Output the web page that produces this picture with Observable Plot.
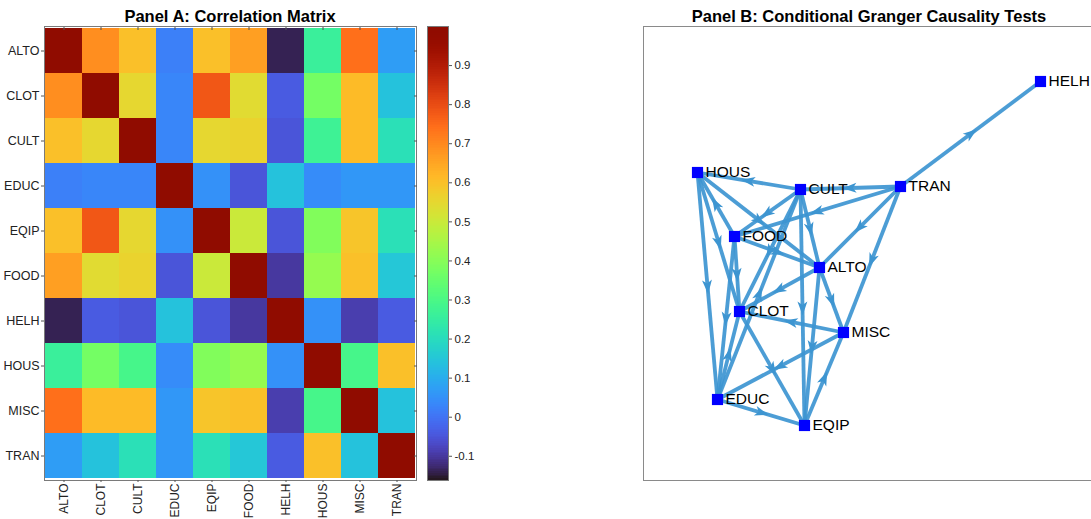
<!DOCTYPE html>
<html><head><meta charset="utf-8">
<script src="https://cdn.jsdelivr.net/npm/d3@7"></script>
<script src="https://cdn.jsdelivr.net/npm/@observablehq/plot@0.6"></script>
<style>
html,body{margin:0;padding:0;background:#fff;overflow:hidden;}
#wrap{position:relative;width:1091px;height:519px;overflow:hidden;font-family:"Liberation Sans",Arial,Helvetica,sans-serif;}
.title{position:absolute;top:8px;font-weight:bold;font-size:16.5px;line-height:16.5px;white-space:nowrap;transform:translateX(-50%);color:#000;}
#wrap svg{position:absolute;top:0;overflow:visible;}
</style></head><body><div id="wrap"></div>
<script>
// ---- Panel A data ----
const sectors = ["ALTO","CLOT","CULT","EDUC","EQIP","FOOD","HELH","HOUS","MISC","TRAN"];
const rowALTO = [1, 0.69, 0.60, 0.02, 0.60, 0.66, -0.14, 0.26, 0.74, 0.07];
const rowCLOT = [0.69, 1, 0.55, 0.03, 0.78, 0.54, -0.04, 0.37, 0.61, 0.14];
const rowCULT = [0.60, 0.55, 1, 0.03, 0.55, 0.56, -0.05, 0.27, 0.61, 0.21];
const rowEDUC = [0.02, 0.03, 0.03, 1, 0.05, -0.05, 0.14, 0.04, 0.06, 0.06];
const rowEQIP = [0.60, 0.78, 0.55, 0.05, 1, 0.50, -0.05, 0.39, 0.59, 0.21];
const rowFOOD = [0.66, 0.54, 0.56, -0.05, 0.50, 1, -0.10, 0.42, 0.60, 0.15];
const rowHELH = [-0.14, -0.04, -0.05, 0.14, -0.05, -0.10, 1, 0.05, -0.09, -0.04];
const rowHOUS = [0.26, 0.37, 0.29, 0.04, 0.39, 0.42, 0.05, 1, 0.29, 0.60];
const rowMISC = [0.74, 0.61, 0.61, 0.06, 0.59, 0.60, -0.09, 0.29, 1, 0.14];
const rowTRAN = [0.07, 0.14, 0.21, 0.06, 0.21, 0.15, -0.04, 0.60, 0.14, 1];
const colorbarTicks = [-0.1, 0, 0.1, 0.2, 0.3, 0.4, 0.5, 0.6, 0.7, 0.8, 0.9];
const colorDomain = [-0.162, 1];

// ---- Panel B data ----
const nodeNames = ["HELH","HOUS","CULT","TRAN","FOOD","ALTO","CLOT","MISC","EDUC","EQIP"];
const nodeX = [397, 54, 157, 257, 91, 176, 96, 200, 74, 161];
const nodeY = [399, 308, 291, 294, 244, 213, 169, 148, 81, 55];
const edgeFrom = ["TRAN","CULT","TRAN","TRAN","TRAN","TRAN","HOUS","HOUS","FOOD","HOUS","CULT","CULT","CULT","FOOD","FOOD","FOOD","ALTO","ALTO","ALTO","CULT","MISC","MISC","EQIP","CLOT","EDUC","EDUC","EDUC"];
const edgeTo   = ["HELH","HOUS","CULT","FOOD","ALTO","MISC","ALTO","CLOT","HOUS","EDUC","FOOD","ALTO","CLOT","ALTO","CLOT","EDUC","CLOT","MISC","EQIP","EQIP","CLOT","EDUC","MISC","EQIP","EQIP","CLOT","CULT"];

const font = '"Liberation Sans", Arial, Helvetica, sans-serif';
const wrap = document.getElementById("wrap");

// build tables
const rows = [rowALTO,rowCLOT,rowCULT,rowEDUC,rowEQIP,rowFOOD,rowHELH,rowHOUS,rowMISC,rowTRAN];
const cells = [];
rows.forEach((r, i) => r.forEach((v, j) => cells.push({row: sectors[i], col: sectors[j], value: v})));

const colorScale = {type: "linear", scheme: "turbo", domain: colorDomain};

const heat = Plot.plot({
  width: 427, height: 519,
  marginLeft: 44, marginRight: 11, marginTop: 26, marginBottom: 39,
  style: {fontFamily: font, fontSize: "12.5px", color: "#222", background: "transparent"},
  x: {type: "band", domain: sectors, padding: 0, label: null},
  y: {type: "band", domain: sectors, padding: 0, label: null},
  color: colorScale,
  marks: [
    Plot.cell(cells, {x: "col", y: "row", fill: "value", inset: 0}),
    Plot.frame({stroke: "#7a7a7a", strokeWidth: 1}),
    Plot.axisY({anchor: "left", tickSize: 3, tickPadding: 2, stroke: "#555", fontSize: 12.5, fill: "#222"}),
    Plot.axisY({anchor: "right", tickSize: -3, tickFormat: () => "", stroke: "#555"}),
    Plot.axisX({anchor: "bottom", tickSize: 2, tickPadding: 1, tickRotate: -90, stroke: "#555", fontSize: 12, fill: "#222"}),
    Plot.axisX({anchor: "top", tickSize: -3, tickFormat: () => "", stroke: "#555"})
  ]
});
heat.style.left = "0px";
wrap.appendChild(heat);

// colorbar
const nStops = 256;
const stops = d3.range(nStops).map(i => {
  const a = colorDomain[0] + (colorDomain[1] - colorDomain[0]) * i / nStops;
  const b = colorDomain[0] + (colorDomain[1] - colorDomain[0]) * (i + 1) / nStops;
  return {y1: a, y2: b, v: (a + b) / 2};
});
const cbar = Plot.plot({
  width: 61, height: 519,
  marginLeft: 0, marginRight: 40, marginTop: 26, marginBottom: 39,
  style: {fontFamily: font, fontSize: "11.5px", color: "#222", background: "transparent"},
  x: {domain: [0, 1], axis: null},
  y: {domain: colorDomain, label: null},
  color: colorScale,
  marks: [
    Plot.rect(stops, {x1: 0, x2: 1, y1: "y1", y2: "y2", fill: "v", inset: 0, shapeRendering: "crispEdges"}),
    Plot.frame({stroke: "#7a7a7a", strokeWidth: 1}),
    Plot.axisY({anchor: "right", ticks: colorbarTicks, tickFormat: d => String(+d.toFixed(1)), tickSize: 3, tickPadding: 3, stroke: "#555", fontSize: 11.5, fill: "#222"})
  ]
});
cbar.style.left = "427px";
wrap.appendChild(cbar);

// graph
const nodes = nodeNames.map((n, i) => ({name: n, x: nodeX[i], y: nodeY[i]}));
const byName = new Map(nodes.map(d => [d.name, d]));
const edges = edgeFrom.map((s, k) => {
  const a = byName.get(s), b = byName.get(edgeTo[k]);
  return {
    x1: a.x, y1: a.y, x2: b.x, y2: b.y,
    mx: (a.x + b.x) / 2, my: (a.y + b.y) / 2,
    angle: Math.atan2(b.x - a.x, b.y - a.y) * 180 / Math.PI
  };
});
// filled barbed arrowhead pointing up; rotated per edge
const arrowHead = {
  draw(context, size) {
    const L = Math.sqrt(size / Math.PI);
    context.moveTo(0, -L);
    context.lineTo(0.62 * L, 0.75 * L);
    context.lineTo(0, 0.3 * L);
    context.lineTo(-0.62 * L, 0.75 * L);
    context.closePath();
  }
};
const edgeColor = "#3d95d1";
const graph = Plot.plot({
  width: 453, height: 519,
  marginLeft: 1, marginRight: 0, marginTop: 26, marginBottom: 39,
  style: {fontFamily: font, fontSize: "15.5px", background: "transparent"},
  x: {domain: [0, 452], axis: null},
  y: {domain: [0, 454], axis: null},
  marks: [
    Plot.frame({stroke: "#8a8a8a", strokeWidth: 1}),
    Plot.link(edges, {x1: "x1", y1: "y1", x2: "x2", y2: "y2", stroke: edgeColor, strokeWidth: 3.8, strokeOpacity: 0.92}),
    Plot.dot(edges, {x: "mx", y: "my", rotate: "angle", symbol: arrowHead, r: 8, fill: edgeColor, stroke: "none"}),
    Plot.dot(nodes, {x: "x", y: "y", symbol: "square", r: 6.3, fill: "#0000ff", stroke: "none"}),
    Plot.text(nodes, {x: "x", y: "y", text: "name", dx: 8, textAnchor: "start", fill: "#000", fontSize: 15.5})
  ]
});
graph.style.left = "642px";
wrap.appendChild(graph);

// titles
function addTitle(txt, cx) {
  const d = document.createElement("div");
  d.className = "title";
  d.textContent = txt;
  d.style.left = cx + "px";
  wrap.appendChild(d);
}
addTitle("Panel A: Correlation Matrix", 230);
addTitle("Panel B: Conditional Granger Causality Tests", 869);
</script></body></html>
